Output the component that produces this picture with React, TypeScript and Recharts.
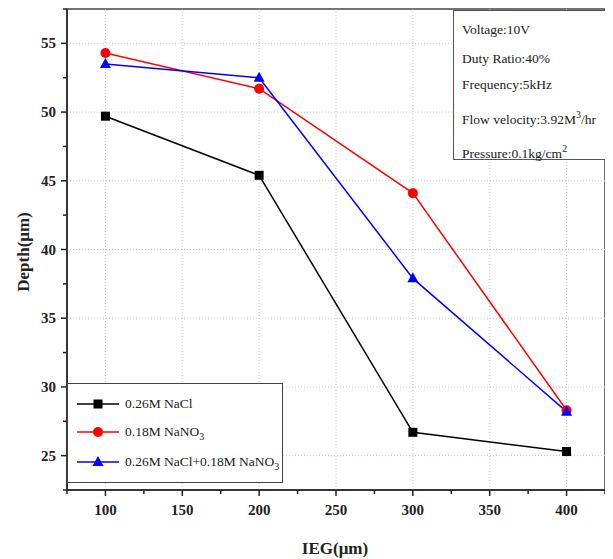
import {
  Line,
  LineChart,
  ReferenceArea,
  ReferenceLine,
  XAxis,
  YAxis
} from "recharts";

const iegValues = [100, 200, 300, 400];
const naclDepth = [49.7, 45.4, 26.7, 25.3];
const nano3Depth = [54.3, 51.7, 44.1, 28.3];
const mixedDepth = [53.5, 52.5, 37.9, 28.2];

const xTicks = [75, 100, 125, 150, 175, 200, 225, 250, 275, 300, 325, 350, 375, 400, 425];
const yTicks = [22.5, 25, 27.5, 30, 32.5, 35, 37.5, 40, 42.5, 45, 47.5, 50, 52.5, 55, 57.5];
const xGrid = [100, 150, 200, 250, 300, 350, 400];
const yGrid = [25, 30, 35, 40, 45, 50, 55];

const serif = "'Liberation Serif', 'Times New Roman', serif";

const data = iegValues.map((ieg, i) => ({
  ieg,
  nacl: naclDepth[i],
  nano3: nano3Depth[i],
  mixed: mixedDepth[i]
}));

type Shape = "square" | "circle" | "triangle";

const series: { key: string; color: string; shape: Shape; label: React.ReactNode }[] = [
  { key: "nacl", color: "#000000", shape: "square", label: "0.26M NaCl" },
  {
    key: "nano3",
    color: "#ff0000",
    shape: "circle",
    label: (
      <>
        0.18M NaNO<sub style={{ fontSize: 10 }}>3</sub>
      </>
    )
  },
  {
    key: "mixed",
    color: "#0000ff",
    shape: "triangle",
    label: (
      <>
        0.26M NaCl+0.18M NaNO<sub style={{ fontSize: 10 }}>3</sub>
      </>
    )
  }
];

function Marker({ cx, cy, shape, color }: { cx: number; cy: number; shape: Shape; color: string }) {
  if (shape === "square") {
    return <rect x={cx - 4.5} y={cy - 4.5} width={9} height={9} fill={color} />;
  }
  if (shape === "circle") {
    return <circle cx={cx} cy={cy} r={5} fill={color} />;
  }
  return <polygon points={`${cx},${cy - 6} ${cx - 5.5},${cy + 4} ${cx + 5.5},${cy + 4}`} fill={color} />;
}

function XTick(props: any) {
  const { x, y, payload } = props;
  const major = payload.value % 50 === 0;
  return (
    <g>
      <line x1={x} x2={x} y1={y} y2={y + (major ? 6 : 4)} stroke="#222" strokeWidth={1.5} />
      {major && payload.value >= 100 && payload.value <= 400 && (
        <text x={x} y={y + 25} textAnchor="middle" fontFamily={serif} fontWeight="bold" fontSize={15} fill="#222">
          {payload.value}
        </text>
      )}
    </g>
  );
}

function YTick(props: any) {
  const { x, y, payload } = props;
  const major = payload.value % 5 === 0;
  return (
    <g>
      <line x1={x - (major ? 6 : 4)} x2={x} y1={y} y2={y} stroke="#222" strokeWidth={1.5} />
      {major && (
        <text x={x - 11} y={y + 5} textAnchor="end" fontFamily={serif} fontWeight="bold" fontSize={15} fill="#222">
          {payload.value}
        </text>
      )}
    </g>
  );
}

function LegendBox() {
  return (
    <div
      style={{
        position: "absolute",
        left: 59,
        top: 375,
        width: 216,
        height: 100,
        boxSizing: "border-box",
        border: "1px solid #444",
        background: "#fff",
        fontFamily: serif,
        fontSize: 13.5,
        color: "#222"
      }}
    >
      {series.map((s, i) => {
        const top = [20, 48, 78][i];
        return (
          <div key={s.key} style={{ position: "absolute", left: 0, top: top - 10, height: 20, width: "100%" }}>
            <svg width={54} height={20} style={{ position: "absolute", left: 6, top: 0 }}>
              <line x1={3} x2={45} y1={10} y2={10} stroke={s.color} strokeWidth={1.5} />
              <Marker cx={24} cy={10} shape={s.shape} color={s.color} />
            </svg>
            <span style={{ position: "absolute", left: 57, top: 1, whiteSpace: "nowrap", lineHeight: "18px" }}>
              {s.label}
            </span>
          </div>
        );
      })}
    </div>
  );
}

const infoLines: { top: number; content: React.ReactNode }[] = [
  { top: 19, content: "Voltage:10V" },
  { top: 48, content: "Duty Ratio:40%" },
  { top: 74, content: "Frequency:5kHz" },
  {
    top: 104,
    content: (
      <>
        Flow velocity:3.92M<sup style={{ fontSize: 10 }}>3</sup>/hr
      </>
    )
  },
  {
    top: 138,
    content: (
      <>
        Pressure:0.1kg/cm<sup style={{ fontSize: 10 }}>2</sup>
      </>
    )
  }
];

export default function App() {
  return (
    <div style={{ position: "relative", width: 605, height: 551 }}>
      <LineChart width={605} height={551} data={data} margin={{ top: 1, right: 8, bottom: 0, left: 0 }}>
        {xGrid.map((v) => (
          <ReferenceLine key={`x${v}`} x={v} stroke="#c8c8c8" strokeDasharray="1 2" />
        ))}
        {yGrid.map((v) => (
          <ReferenceLine key={`y${v}`} y={v} stroke="#c8c8c8" strokeDasharray="1 2" />
        ))}
        <XAxis
          dataKey="ieg"
          type="number"
          domain={[75, 425]}
          ticks={xTicks}
          interval={0}
          height={69}
          tickSize={0}
          tickMargin={0}
          tick={<XTick />}
          axisLine={{ stroke: "#222", strokeWidth: 1.5 }}
          tickLine={false}
          label={{
            content: () => (
              <text x={327} y={546} textAnchor="middle" fontFamily={serif} fontWeight="bold" fontSize={17} fill="#222">
                IEG(μm)
              </text>
            )
          }}
        />
        <YAxis
          type="number"
          domain={[22.5, 57.5]}
          ticks={yTicks}
          interval={0}
          width={59}
          tickSize={0}
          tickMargin={0}
          tick={<YTick />}
          axisLine={{ stroke: "#222", strokeWidth: 1.5 }}
          tickLine={false}
          label={{
            content: () => (
              <text
                x={15}
                y={244}
                textAnchor="middle"
                transform="rotate(-90 15 244)"
                dominantBaseline="central"
                fontFamily={serif}
                fontWeight="bold"
                fontSize={17}
                fill="#222"
              >
                Depth(μm)
              </text>
            )
          }}
        />
        <ReferenceArea x1={75} x2={425} y1={22.5} y2={57.5} fill="none" stroke="#444" strokeWidth={1.5} />
        {series.map((s) => (
          <Line
            key={s.key}
            dataKey={s.key}
            stroke={s.color}
            strokeWidth={1.5}
            type="linear"
            isAnimationActive={false}
            dot={(p: any) => <Marker key={`${s.key}-${p.index}`} cx={p.cx} cy={p.cy} shape={s.shape} color={s.color} />}
            activeDot={false}
          />
        ))}
      </LineChart>
      <LegendBox />
      <div
        style={{
          position: "absolute",
          left: 445,
          top: 2,
          width: 154,
          height: 150,
          boxSizing: "border-box",
          border: "1.5px solid #555",
          background: "#fff",
          fontFamily: serif,
          fontSize: 13.5,
          color: "#222"
        }}
      >
        {infoLines.map((line, i) => (
          <div key={i} style={{ position: "absolute", left: 8, top: line.top - 9, whiteSpace: "nowrap", lineHeight: "18px" }}>
            {line.content}
          </div>
        ))}
      </div>
    </div>
  );
}
